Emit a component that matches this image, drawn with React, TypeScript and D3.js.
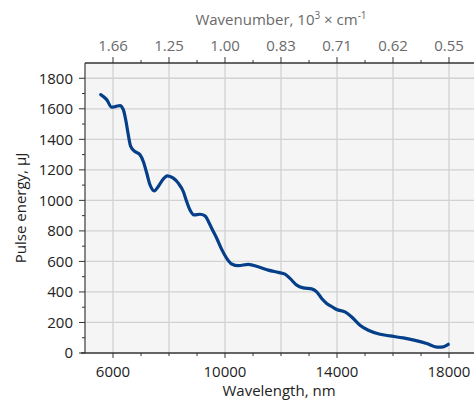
import React from "react";
import * as d3 from "d3";

const wavelength = [5561, 5775, 5954, 6107, 6250, 6368, 6464, 6546, 6632, 6786, 6964, 7082, 7204, 7321, 7475, 7618, 7775, 7939, 8154, 8332, 8511, 8632, 8750, 8893, 9107, 9286, 9439, 9525, 9704, 9882, 10061, 10239, 10475, 10832, 11189, 11546, 11904, 12143, 12321, 12561, 12796, 13096, 13275, 13454, 13632, 13868, 13989, 14286, 14525, 14821, 15118, 15536, 15893, 16368, 16786, 17204, 17561, 17739, 17975];
const energy = [1693, 1660, 1610, 1616, 1621, 1594, 1518, 1430, 1353, 1320, 1299, 1255, 1179, 1102, 1062, 1091, 1135, 1161, 1146, 1113, 1058, 992, 937, 905, 909, 898, 850, 817, 752, 679, 620, 583, 572, 581, 565, 543, 528, 517, 489, 445, 427, 420, 401, 357, 325, 298, 285, 269, 236, 182, 149, 123, 112, 99, 83, 62, 39, 39, 57];

const bottomLabels = [6000, 10000, 14000, 18000];
const topTicks = [6000, 8000, 10000, 12000, 14000, 16000, 18000];
const yLabels = [0, 200, 400, 600, 800, 1000, 1200, 1400, 1600, 1800];

const W = 474, H = 401;
const L = 85, T = 63, B = 353;
const FONT = "'Open Sans', 'Noto Sans', sans-serif";

export default function App() {
  const x = d3.scaleLinear().domain([5000, 19000]).range([L, L + 14000 * 0.028]);
  const y = d3.scaleLinear().domain([0, 1900]).range([B, T]);
  const R = W + 2;
  const minorX = d3.range(6000, 19000, 1000);
  const minorY = d3.range(100, 1900, 200);
  const pts = wavelength.map((w, i) => [w, energy[i]] as [number, number]);
  const line = d3.line<[number, number]>().x(d => x(d[0])).y(d => y(d[1])).curve(d3.curveMonotoneX);
  const fmtTop = (t: number) => (Math.floor((10000 / t) * 100 + 1e-9) / 100).toFixed(2);
  return (
    <svg width={W} height={H} style={{ position: "absolute", left: 0, top: 0, fontFamily: FONT }}>
      <rect x={L} y={T} width={R - L} height={B - T} fill="#f5f5f5" />
      {topTicks.map(t => (
        <line key={"gx" + t} x1={x(t)} x2={x(t)} y1={T} y2={B} stroke="#d2d2d2" strokeWidth={1.3} />
      ))}
      {yLabels.filter(v => v > 0).map(v => (
        <line key={"gy" + v} x1={L} x2={R} y1={y(v)} y2={y(v)} stroke="#d2d2d2" strokeWidth={1.3} />
      ))}
      <path d={line(pts) || ""} fill="none" stroke="#053f8a" strokeWidth={3.2} strokeLinejoin="round" strokeLinecap="round" />
      {/* left axis */}
      <line x1={L} x2={L} y1={T} y2={B} stroke="#6a6a6a" strokeWidth={1.6} />
      {yLabels.map(v => (
        <g key={"yl" + v}>
          <line x1={L - 6} x2={L} y1={y(v)} y2={y(v)} stroke="#333" strokeWidth={1} />
          <text x={L - 12} y={y(v)} dy="0.35em" textAnchor="end" fontSize={15} fill="#222">{v}</text>
        </g>
      ))}
      {minorY.map(v => (
        <line key={"my" + v} x1={L - 3} x2={L} y1={y(v)} y2={y(v)} stroke="#333" strokeWidth={1} />
      ))}
      <text transform={`translate(21,${(T + B) / 2}) rotate(-90)`} textAnchor="middle" dy="0.35em" fontSize={15} fill="#222">Pulse energy, µJ</text>
      {/* bottom axis */}
      <line x1={L - 4} x2={R} y1={B} y2={B} stroke="#333" strokeWidth={1.4} />
      {minorX.map(t => (
        <line key={"bx" + t} x1={x(t)} x2={x(t)} y1={B} y2={B + (t % 4000 === 2000 ? 5 : 3)} stroke="#333" strokeWidth={1} />
      ))}
      {bottomLabels.map(t => (
        <text key={"bl" + t} x={x(t)} y={B + 24} textAnchor="middle" fontSize={15} fill="#222">{t}</text>
      ))}
      <text x={(L + 473) / 2} y={396} textAnchor="middle" fontSize={15} fill="#222">Wavelength, nm</text>
      {/* top axis */}
      <line x1={L} x2={R} y1={T} y2={T} stroke="#333" strokeWidth={1.4} />
      {minorX.map(t => (
        <line key={"tx" + t} x1={x(t)} x2={x(t)} y1={T} y2={T - (t % 2000 === 0 ? 6 : 3)} stroke="#333" strokeWidth={1} />
      ))}
      {topTicks.map(t => (
        <text key={"tl" + t} x={x(t)} y={T - 12} textAnchor="middle" fontSize={15} fill="#6a6a6a">{fmtTop(t)}</text>
      ))}
      <text x={281} y={25} textAnchor="middle" fontSize={15} fill="#6a6a6a">
        Wavenumber, 10<tspan fontSize={10} dy={-6}>3</tspan><tspan dy={6}> × cm</tspan><tspan fontSize={10} dy={-6}>-1</tspan>
      </text>
    </svg>
  );
}
